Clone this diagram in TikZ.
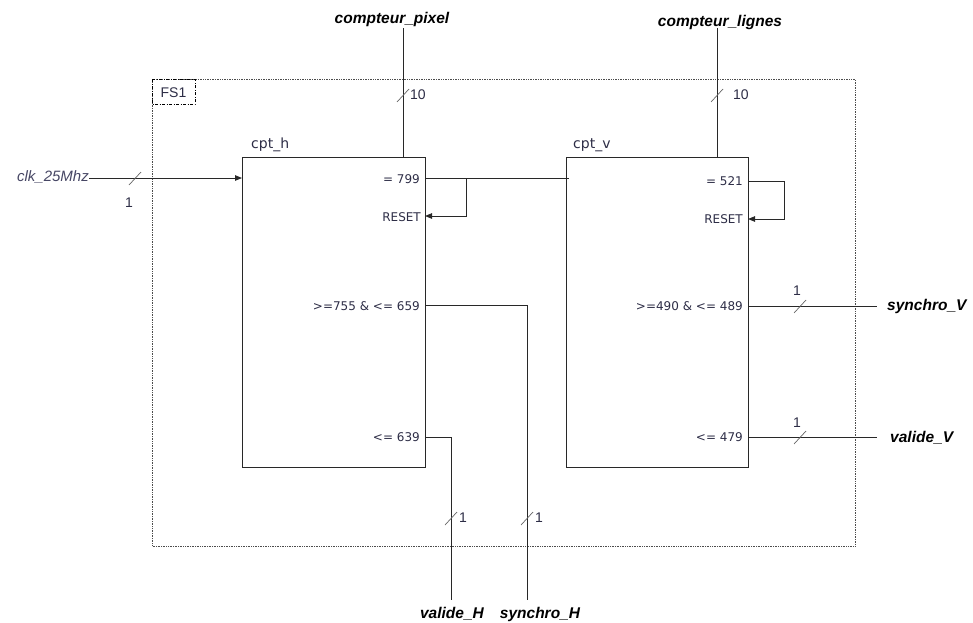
\documentclass[tikz,border=0pt]{standalone}
\usepackage{fontspec}
\setmainfont{Liberation Sans}
\newfontfamily\portfont{DejaVu Sans}
\usetikzlibrary{arrows.meta}
\definecolor{wire}{RGB}{40,40,40}
\definecolor{lbl}{RGB}{45,45,70}
\definecolor{clkc}{RGB}{70,70,100}
\begin{document}
\begin{tikzpicture}[x=1pt,y=-1pt,
  blockbox/.style={draw=wire,line width=0.9pt,anchor=north west,inner sep=0pt},
  wireline/.style={draw=wire,line width=0.9pt},
  arrowline/.style={wireline,-{Triangle[length=7pt,width=5.5pt]}},
  portlbl/.style={text=lbl,font=\portfont\fontsize{12}{14}\selectfont,inner sep=0pt},
  extlbl/.style={text=black,font=\fontsize{15.5}{18}\selectfont\bfseries\itshape,inner sep=0pt},
  buslbl/.style={text=lbl,font=\fontsize{14}{16}\selectfont,inner sep=0pt},
  slashmark/.style={draw=gray!80!black,line width=0.7pt},
  framebox/.style={draw=black!70,densely dotted,line width=0.7pt},
  fsbox/.style={draw=black,line width=0.7pt,dash pattern=on 3pt off 1.5pt on 1pt off 1.5pt}
]
\useasboundingbox (0,0) rectangle (973,622);
% frame
\draw[framebox] (152,79) rectangle (855,546);
\draw[fsbox] (152,79) rectangle (195,104);
\node[text=lbl,font=\fontsize{14}{16}\selectfont,inner sep=0pt] (fs1) at (173.5,92.5) {FS1};
% blocks
\node[blockbox,minimum width=183pt,minimum height=310pt] (cph) at (242,157) {};
\node[blockbox,minimum width=182pt,minimum height=310pt] (cpv) at (566,157) {};
\node[text=lbl,font=\portfont\fontsize{14}{16}\selectfont,inner sep=0pt,anchor=south west] (cphl) at (251,152) {cpt\_h};
\node[text=lbl,font=\portfont\fontsize{14}{16}\selectfont,inner sep=0pt,anchor=south west] (cpvl) at (573,152) {cpt\_v};
% port labels
\node[portlbl,anchor=east] (l799) at (420,179) {= 799};
\node[portlbl,anchor=east] (lrh) at (421,217) {RESET};
\node[portlbl,anchor=east] (l755) at (420,306) {>=755 \& <= 659};
\node[portlbl,anchor=east] (l639) at (420,437) {<= 639};
\node[portlbl,anchor=east] (l521) at (743,181) {= 521};
\node[portlbl,anchor=east] (lrv) at (743,219) {RESET};
\node[portlbl,anchor=east] (l490) at (743,306) {>=490 \& <= 489};
\node[portlbl,anchor=east] (l479) at (743,437) {<= 479};
% port coordinates
\coordinate (hclk) at (242,178);
\coordinate (h799) at (425,178);
\coordinate (hrst) at (425,216);
\coordinate (h755) at (425,305);
\coordinate (h639) at (425,437);
\coordinate (htop) at (403,157);
\coordinate (vin) at (569,178);
\coordinate (v521) at (748,181);
\coordinate (vrst) at (748,219);
\coordinate (v490) at (748,306);
\coordinate (v479) at (748,437);
\coordinate (vtop) at (717,157);
% external labels
\node[extlbl] (cpix) at (392,19) {compteur\_pixel};
\node[extlbl] (clig) at (720,22) {compteur\_lignes};
\node[text=clkc,font=\fontsize{15}{18}\selectfont\itshape,inner sep=0pt,anchor=east] (clk) at (89,177) {clk\_25Mhz};
\node[extlbl,anchor=west] (syv) at (887,306) {synchro\_V};
\node[extlbl,anchor=west] (vav) at (890,438) {valide\_V};
\node[extlbl] (vah) at (452,614) {valide\_H};
\node[extlbl] (syh) at (540,614) {synchro\_H};
% end coordinates of external wires
\coordinate (cpixe) at (403,28);
\coordinate (clige) at (717,28);
\coordinate (syve) at (877,306);
\coordinate (vave) at (877,437);
\coordinate (vahe) at (451,600);
\coordinate (syhe) at (527,600);
% wires
\draw[wireline] (cpixe) -- (htop);
\draw[wireline] (clige) -- (vtop);
\draw[arrowline] (clk.east |- hclk) -- (hclk);
\draw[wireline] (h799) -- (vin);
\draw[arrowline] (466,178) -- (466,216) -- (hrst);
\draw[arrowline] (v521) -- (784,181) -- (784,219) -- (vrst);
\draw[wireline] (h755) -- (527,305) -- (syhe);
\draw[wireline] (h639) -- (451,437) -- (vahe);
\draw[wireline] (v490) -- (syve);
\draw[wireline] (v479) -- (vave);
% bus slashes and widths
\draw[slashmark] (397,102) -- (409,89);
\node[buslbl,anchor=west] (b1) at (410,95) {10};
\draw[slashmark] (711,102) -- (723,89);
\node[buslbl,anchor=west] (b2) at (733,95) {10};
\draw[slashmark] (129,185) -- (141,172);
\node[buslbl] (b3) at (129,203) {1};
\draw[slashmark] (794,313) -- (806,300);
\node[buslbl] (b4) at (797,291) {1};
\draw[slashmark] (794,444) -- (806,431);
\node[buslbl] (b5) at (797,423) {1};
\draw[slashmark] (445,525) -- (457,512);
\node[buslbl,anchor=west] (b6) at (459,518) {1};
\draw[slashmark] (521,525) -- (533,512);
\node[buslbl,anchor=west] (b7) at (535,518) {1};
\end{tikzpicture}
\end{document}
